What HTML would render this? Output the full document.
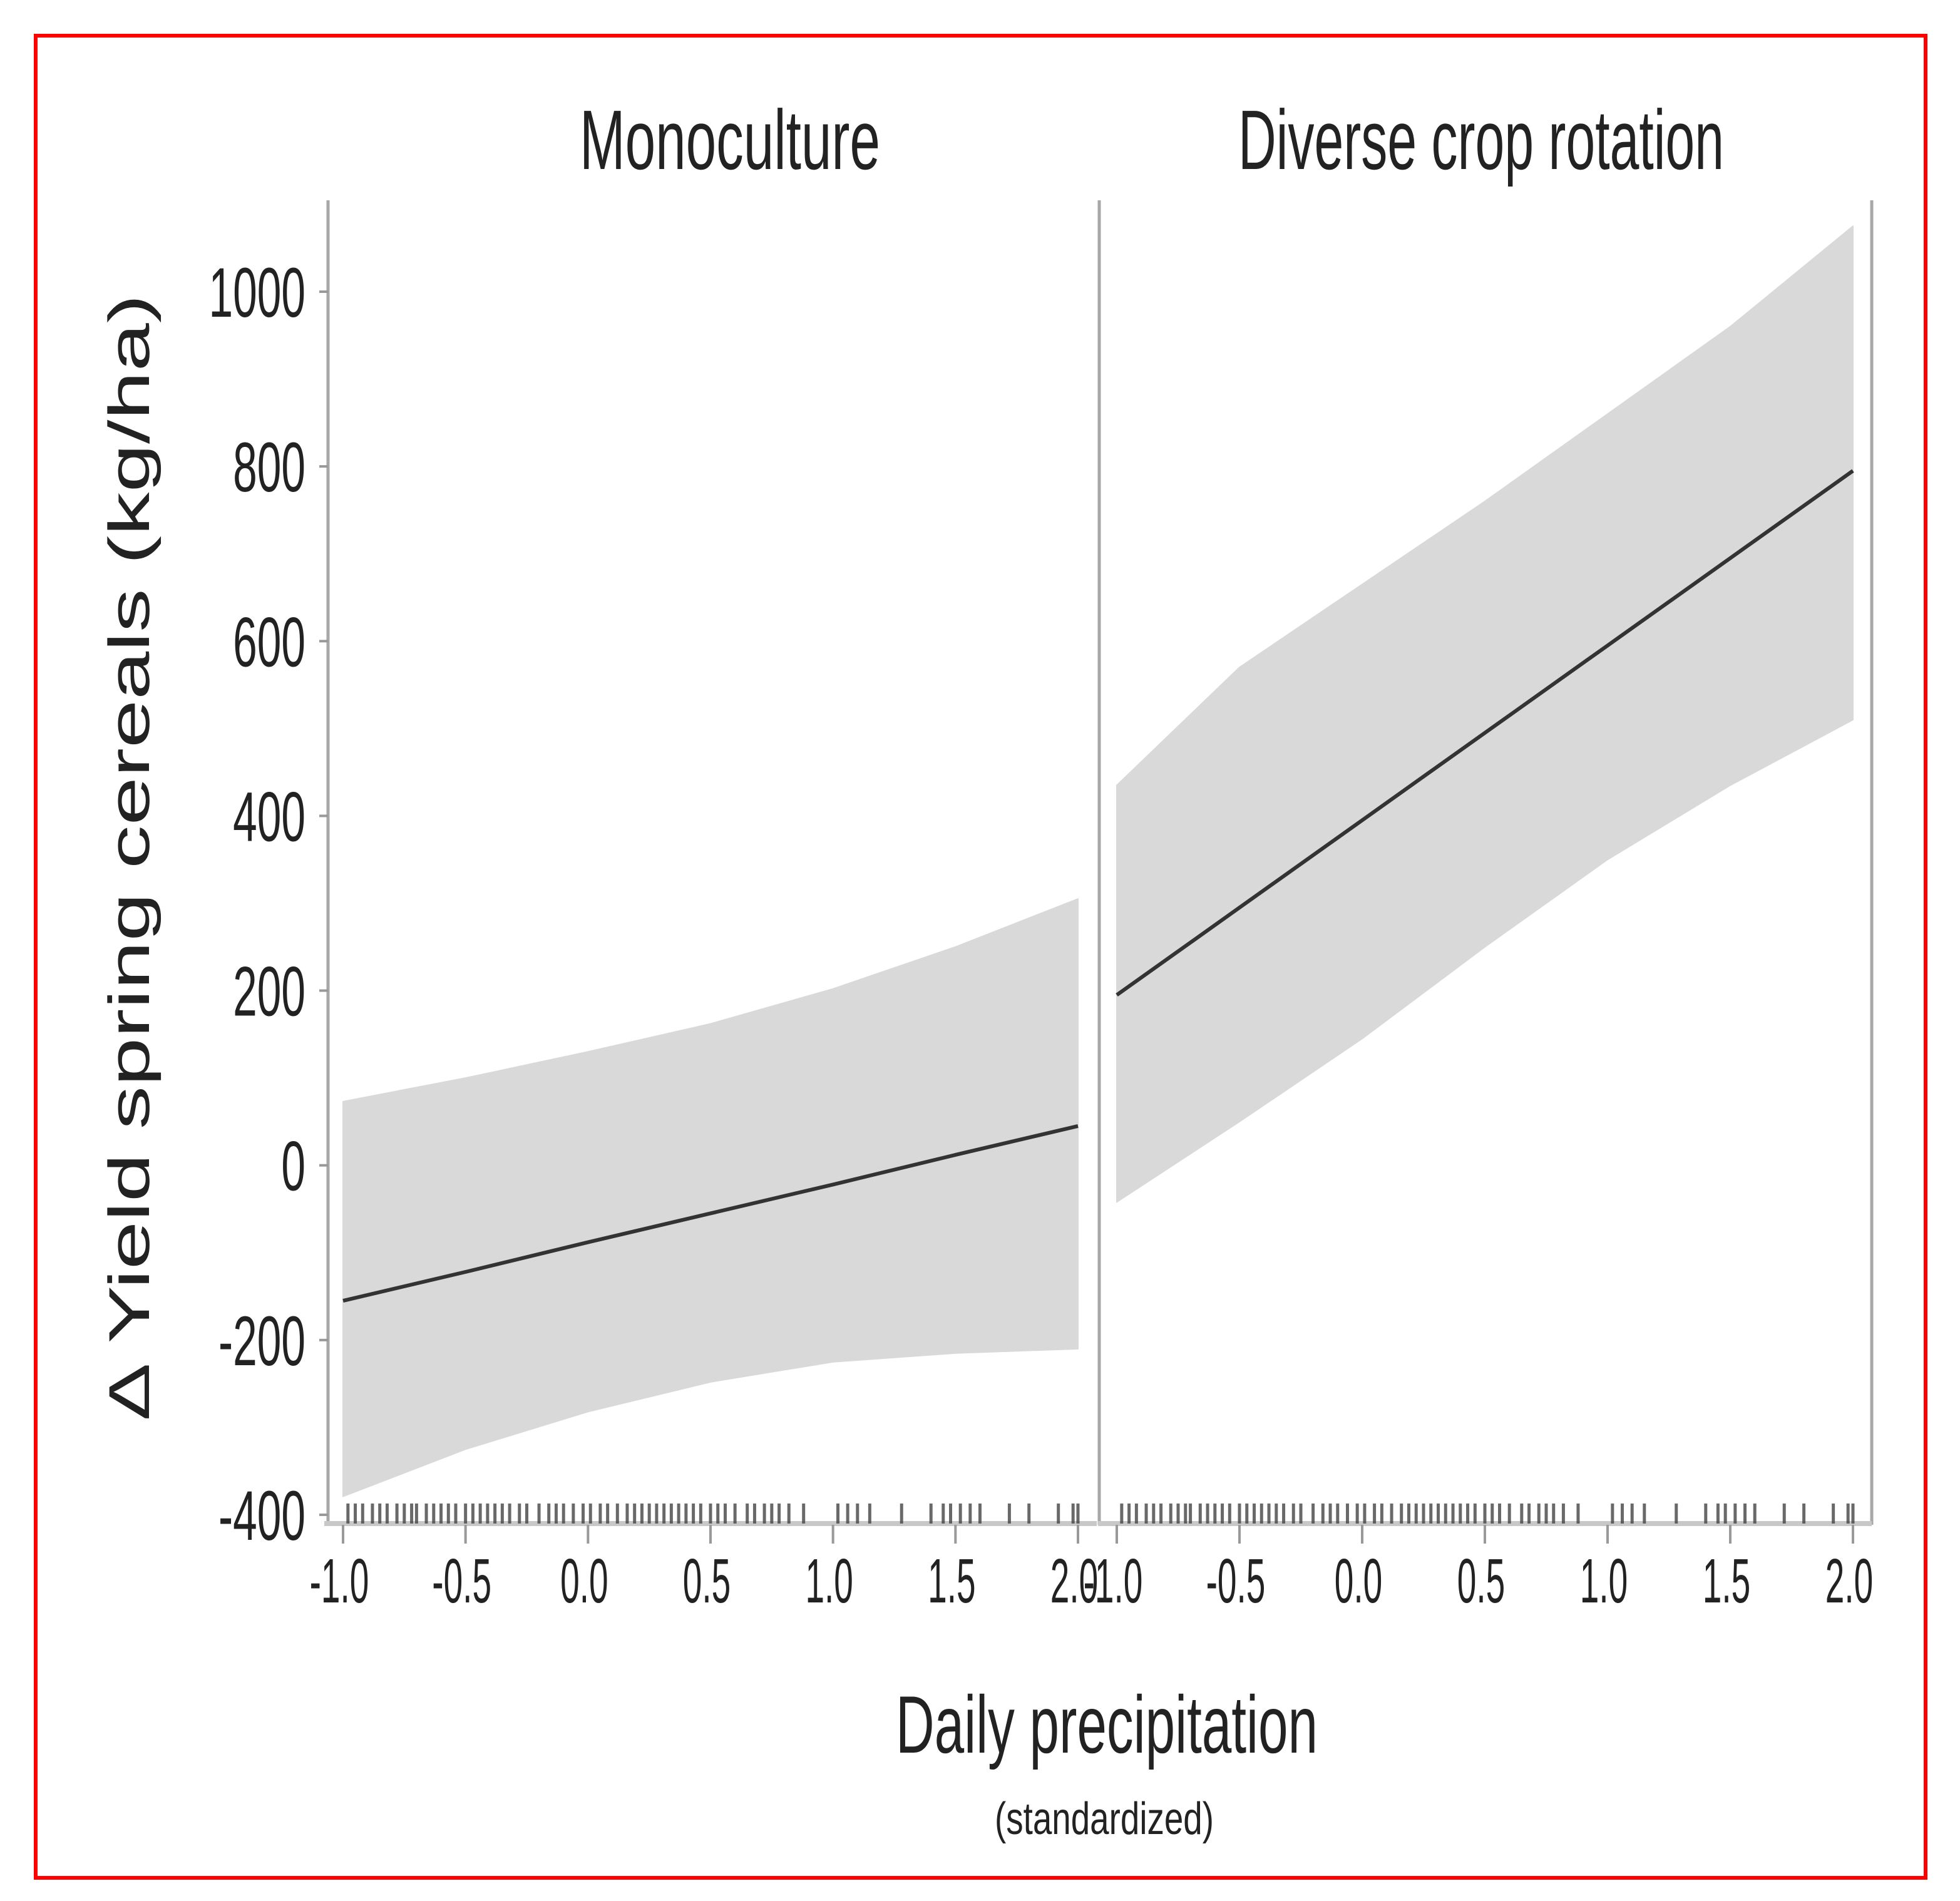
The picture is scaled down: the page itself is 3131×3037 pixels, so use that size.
<!DOCTYPE html>
<html><head><meta charset="utf-8"><style>
html,body{margin:0;padding:0;background:#fff}
svg{display:block}
text{font-family:"Liberation Sans",sans-serif;fill:#222}
</style></head><body>
<svg width="3131" height="3037" viewBox="0 0 3131 3037" id="chart">
<rect x="57" y="57" width="3019" height="2943" fill="#fff" stroke="#f00" stroke-width="6"/>
<text x="1166" y="270" font-size="135" text-anchor="middle" textLength="480" lengthAdjust="spacingAndGlyphs">Monoculture</text>
<text x="2366" y="270" font-size="135" text-anchor="middle" textLength="776" lengthAdjust="spacingAndGlyphs">Diverse crop rotation</text>
<text x="1768" y="2800" font-size="130" text-anchor="middle" textLength="674" lengthAdjust="spacingAndGlyphs">Daily precipitation</text>
<text x="1764" y="2930" font-size="72" text-anchor="middle" textLength="350" lengthAdjust="spacingAndGlyphs">(standardized)</text>
<text x="0" y="0" font-size="92" text-anchor="middle" textLength="1800" lengthAdjust="spacingAndGlyphs" transform="translate(238,1370) rotate(-90)">Δ Yield spring cereals (kg/ha)</text>
<g id="plot"></g>
</svg>
<script>
const xTicks=[-1.0,-0.5,0.0,0.5,1.0,1.5,2.0];
const xTickLabels=["-1.0","-0.5","0.0","0.5","1.0","1.5","2.0"];
const yTicks=[1000,800,600,400,200,0,-200,-400];
const yTickLabels=["1000","800","600","400","200","0","-200","-400"];
const bandX=[-1,-0.5,0,0.5,1,1.5,2];
const monoFit=[-155,-122,-88,-55,-22,12,45];
const monoUpper=[73,100,130,162,202,250,305];
const monoLower=[-379,-325,-282,-248,-225,-215,-210];
const divFit=[195,295,395,495,595,695,795];
const divUpper=[435,570,665,760,860,960,1075];
const divLower=[-42,50,145,250,350,435,510];
const rug=[-0.98,-0.95,-0.92,-0.88,-0.85,-0.82,-0.78,-0.75,-0.72,-0.7,-0.66,-0.63,-0.6,-0.57,-0.54,-0.5,-0.47,-0.44,-0.41,-0.38,-0.35,-0.32,-0.28,-0.25,-0.2,-0.16,-0.13,-0.1,-0.06,-0.02,0.01,0.05,0.08,0.12,0.16,0.19,0.22,0.25,0.28,0.31,0.34,0.37,0.4,0.43,0.46,0.5,0.53,0.56,0.6,0.65,0.68,0.72,0.75,0.78,0.82,0.88,1.02,1.06,1.1,1.15,1.28,1.4,1.45,1.48,1.52,1.56,1.6,1.72,1.8,1.92,1.98,2.0];
const NS='http://www.w3.org/2000/svg';
const plot=document.getElementById('plot');
function el(tag,attrs){const e=document.createElementNS(NS,tag);for(const k in attrs)e.setAttribute(k,attrs[k]);plot.appendChild(e);return e;}
const yTop=466,yBot=2420;
function yS(v){return yTop+(1000-v)*(yBot-yTop)/1400;}
const panels=[{x0:548,x1:1722,fit:monoFit,up:monoUpper,lo:monoLower,name:'monoculture'},{x0:1784,x1:2960,fit:divFit,up:divUpper,lo:divLower,name:'diverse'}];
[[524,'y-axis-line'],[1756,'panel-divider'],[2990,'right-panel-border']].forEach(([x,n])=>{
 const l=el('line',{x1:x,x2:x,y1:320,y2:2436,stroke:'#a8a8a8','stroke-width':5});
 
 
});
yTicks.forEach((v,i)=>{
 const t=el('line',{x1:510,x2:524,y1:yS(v),y2:yS(v),stroke:'#999','stroke-width':4});
 
 
 const tx=el('text',{x:0,y:0,'font-size':112,'text-anchor':'end',transform:`translate(488,${yS(v)+40}) scale(0.62,1)`});
 tx.textContent=yTickLabels[i];
 
 
});
panels.forEach(p=>{
 const xS=v=>p.x0+(v+1)*(p.x1-p.x0)/3;
 let d='';
 bandX.forEach((v,i)=>{d+=(i?'L':'M')+xS(v)+','+yS(p.up[i]);});
 for(let i=bandX.length-1;i>=0;i--)d+='L'+xS(bandX[i])+','+yS(p.lo[i]);
 const b=el('path',{d:d+'Z',fill:'#d9d9d9','stroke':'#d9d9d9','stroke-width':2,'stroke-linejoin':'round'});
 
 
 let ld='';
 bandX.forEach((v,i)=>{ld+=(i?'L':'M')+xS(v)+','+yS(p.fit[i]);});
 const l=el('path',{d:ld,fill:'none',stroke:'#333','stroke-width':6});
 
 
 const base=el('rect',{x:p.x0-30,y:2430,width:p.x1-p.x0+60,height:8,fill:'#c8c8c8'});
 
 
 rug.forEach(v=>{
  const r=el('line',{x1:xS(v),x2:xS(v),y1:2402,y2:2434,stroke:'#444','stroke-width':5,opacity:0.8});
  
  
 });
 xTicks.forEach((v,i)=>{
  const t=el('line',{x1:xS(v),x2:xS(v),y1:2436,y2:2466,stroke:'#999','stroke-width':4});
  
  
  const tx=el('text',{x:0,y:0,'font-size':100,'text-anchor':'middle',transform:`translate(${xS(v)-6},${2560}) scale(0.55,1)`});
  tx.textContent=xTickLabels[i];
  
  
 });
});
</script>
</body></html>
